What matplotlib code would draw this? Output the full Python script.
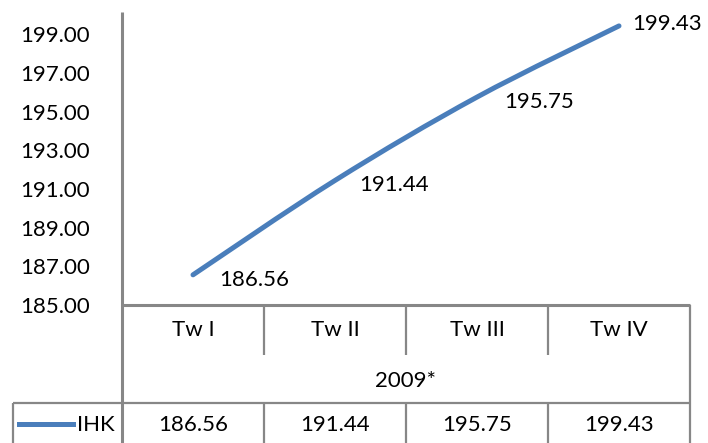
import numpy as np
import matplotlib.pyplot as plt
from matplotlib.path import Path
from matplotlib.patches import PathPatch
from matplotlib.lines import Line2D

plt.rcParams['font.family'] = ['Lato', 'DejaVu Sans']

quarters = ["Tw I", "Tw II", "Tw III", "Tw IV"]
year_label = "2009*"
series_name = "IHK"
ihk = [186.56, 191.44, 195.75, 199.43]
yticks = [185, 187, 189, 191, 193, 195, 197, 199]

W, H = 708, 443
fig = plt.figure(figsize=(W / 100, H / 100), dpi=100)
fs = 16

def fx(px):
    return px / W

def fy(py):
    return 1 - py / H

ax_l, ax_r, ax_t, ax_b = 122, 690, 12, 305
ax = fig.add_axes([fx(ax_l), fy(ax_b), fx(ax_r - ax_l), fy(ax_t) - fy(ax_b)])
ax.set_xlim(0.5, 4.5)
ax.set_ylim(185, 200.15)

blue = "#4A7EBB"
grey = "#878787"

# smoothed line (Excel-style Catmull-Rom bezier)
xs = np.arange(1, len(ihk) + 1, dtype=float)
ys = np.array(ihk)
pts = np.column_stack([xs, ys])
ext = np.vstack([pts[0], pts, pts[-1]])
verts = [pts[0]]
codes = [Path.MOVETO]
for i in range(len(pts) - 1):
    p0, p1, p2, p3 = ext[i], ext[i + 1], ext[i + 2], ext[i + 3]
    c1 = p1 + (p2 - p0) / 6
    c2 = p2 - (p3 - p1) / 6
    verts += [c1, c2, p2]
    codes += [Path.CURVE4] * 3
ax.add_patch(PathPatch(Path(verts, codes), facecolor="none", edgecolor=blue,
                       lw=3.6, capstyle="round", joinstyle="round"))

offsets = [(26, -5), (24, -5), (27, -5), (13, 2)]
for x, v, off in zip(xs, ihk, offsets):
    ax.annotate(f"{v:.2f}", (x, v), xytext=off, textcoords="offset pixels",
                ha="left", va="center", fontsize=fs, color="black")

ax.set_yticks(yticks)
ax.set_yticklabels([f"{t:.2f}" for t in yticks], fontsize=fs)
ax.tick_params(axis="y", length=0, pad=23)
ax.set_xticks([])
for s in ["top", "right", "bottom", "left"]:
    ax.spines[s].set_visible(False)

def hline(x0, x1, y, lw=1.6):
    fig.add_artist(Line2D([fx(x0), fx(x1)], [fy(y), fy(y)], color=grey, lw=lw,
                          solid_capstyle="butt"))

def vline(x, y0, y1, lw=1.6):
    fig.add_artist(Line2D([fx(x), fx(x)], [fy(y0), fy(y1)], color=grey, lw=lw,
                          solid_capstyle="butt"))

# axis lines and data table
vline(ax_l, ax_t, H, lw=2.2)
hline(ax_l, ax_r, ax_b, lw=2.2)
vline(ax_r, ax_b, H)
col_w = (ax_r - ax_l) / len(quarters)
for i in range(1, len(quarters)):
    vline(ax_l + i * col_w, ax_b, 355)
    vline(ax_l + i * col_w, 403, H)
hline(13, ax_r, 403)
vline(13, 403, H)

for i, q in enumerate(quarters):
    cx = ax_l + (i + 0.5) * col_w
    fig.text(fx(cx), fy(330), q, ha="center", va="center", fontsize=fs)
    fig.text(fx(cx), fy(425), f"{ihk[i]:.2f}", ha="center", va="center", fontsize=fs)
fig.text(fx((ax_l + ax_r) / 2), fy(381), year_label, ha="center", va="center", fontsize=fs)

fig.add_artist(Line2D([fx(19), fx(73)], [fy(424), fy(424)], color=blue, lw=3.6))
fig.text(fx(77), fy(425), series_name, ha="left", va="center", fontsize=fs)

fig.savefig("out.png", dpi=100)
